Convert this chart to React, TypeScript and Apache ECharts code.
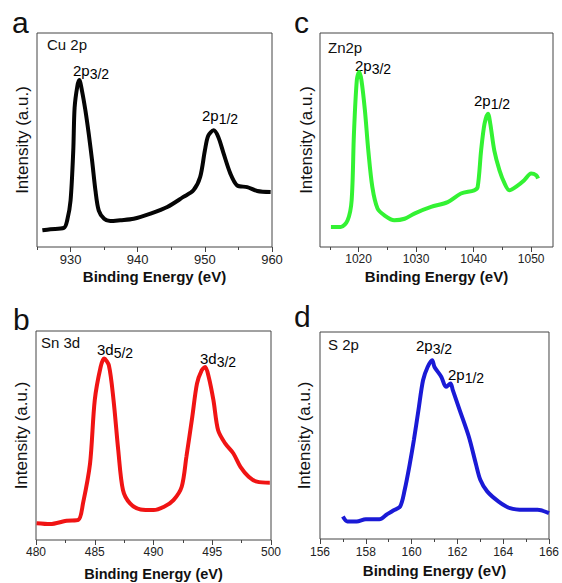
import React, { useEffect, useRef } from "react";
import * as echarts from "echarts";

// ---- Data (binding energy in eV, intensity in arbitrary units 0-100) ----
const cuX = [925.8, 927.0, 929.0, 929.5, 930.0, 930.4, 930.6, 931.0, 931.3, 931.7, 932.2, 932.7, 933.2, 933.7, 934.2, 935.0, 935.9, 937.4, 939.4, 941.9, 944.4, 946.8, 948.3, 949.3, 950.0, 950.5, 951.3, 952.0, 952.8, 953.8, 954.8, 956.3, 957.8, 959.8];
const cuY = [7.8, 8.3, 8.9, 12.5, 21.8, 45, 65, 75, 78, 73, 64, 53, 40.5, 26.5, 17, 13.2, 12.1, 12.5, 13.2, 15.6, 18.7, 23.4, 26.5, 32.7, 45, 52, 54.5, 51.4, 43.6, 34.3, 28.8, 28, 26.2, 25.7];

const snX = [480.05, 481.2, 482.6, 483.6, 484.0, 484.6, 485.0, 485.5, 485.8, 486.2, 486.6, 487.0, 487.4, 488.0, 488.9, 490.0, 490.9, 491.7, 492.4, 492.8, 493.3, 493.7, 494.1, 494.4, 494.7, 495.1, 495.5, 496.1, 496.8, 497.4, 498.1, 498.8, 499.9];
const snY = [8, 7.6, 9.2, 9.6, 17.5, 36.6, 66.9, 82.8, 86.8, 83.6, 66.9, 43, 23.9, 17.5, 14.6, 14.3, 15.9, 19.1, 25.5, 39.8, 58.9, 74.8, 81.2, 82.8, 78, 66.9, 52.5, 46.2, 41.4, 35, 30.3, 27.9, 27.4];

const znX = [1015.2, 1016.9, 1018.1, 1018.8, 1019.2, 1019.7, 1020.1, 1020.5, 1021.1, 1021.7, 1022.4, 1023.3, 1024.5, 1026.2, 1028.0, 1029.7, 1032.6, 1035.5, 1037.8, 1040.1, 1040.7, 1041.3, 1041.9, 1042.5, 1042.9, 1043.6, 1044.5, 1045.4, 1046.2, 1047.7, 1048.8, 1050.0, 1050.9, 1051.2];
const znY = [9.3, 9.3, 12.5, 21.8, 53, 78, 81.8, 78, 64, 45, 28, 18, 14.8, 12.5, 13.2, 15.6, 18.7, 21, 25, 26.5, 28, 45, 57.6, 62.3, 57.6, 45, 35.8, 29.6, 26.5, 28.8, 31.2, 34.3, 33.5, 32];

const sX = [157.0, 157.2, 157.6, 158.0, 158.6, 158.9, 159.2, 159.5, 159.7, 159.9, 160.1, 160.3, 160.5, 160.7, 160.9, 161.0, 161.3, 161.5, 161.7, 161.8, 162.1, 162.5, 162.8, 163.0, 163.3, 163.8, 164.3, 164.9, 165.5, 166.0];
const sY = [10.9, 8.5, 8.5, 9.6, 9.6, 11.7, 13.8, 15.7, 23.8, 35, 47.8, 62.3, 76.7, 83.1, 86.4, 83.1, 78.3, 73.5, 75.1, 71.9, 62.3, 49.4, 36.6, 28.6, 23, 18.1, 14.9, 14.1, 14.1, 12.5];

// ---- Tick labels ----
const cuLabels = [930, 940, 950, 960];
const cuMinor = [925, 935, 945, 955];
const snLabels = [480, 485, 490, 495, 500];
const snMinor = [482.5, 487.5, 492.5, 497.5];
const znLabels = [1020, 1030, 1040, 1050];
const znMinor = [1015, 1025, 1035, 1045];
const sLabels = [156, 158, 160, 162, 164, 166];
const sMinor = [157, 159, 161, 163, 165];

const FONT = "Liberation Sans, Arial, Helvetica, sans-serif";
const AXIS = "#444";

type Panel = {
  x: number[]; y: number[]; color: string; min: number; max: number;
  labels: number[]; minor: number[];
  grid: { left: number; top: number; width: number; height: number };
  nameGap: number; nameSize: number; yGap: number; labelMargin: number; labelSize: number;
};

const panels: Panel[] = [
  { x: cuX, y: cuY, color: "#050505", min: 925, max: 960, labels: cuLabels, minor: cuMinor,
    grid: { left: 37, top: 33, width: 235, height: 214 }, nameGap: 22, nameSize: 15, yGap: 6, labelMargin: 6, labelSize: 13 },
  { x: snX, y: snY, color: "#f01414", min: 480, max: 500, labels: snLabels, minor: snMinor,
    grid: { left: 36, top: 331, width: 235, height: 209 }, nameGap: 26, nameSize: 14.5, yGap: 6, labelMargin: 6, labelSize: 12 },
  { x: znX, y: znY, color: "#33f233", min: 1013.3, max: 1053.8, labels: znLabels, minor: znMinor,
    grid: { left: 320, top: 33, width: 233, height: 214 }, nameGap: 22, nameSize: 15, yGap: 5, labelMargin: 6, labelSize: 12 },
  { x: sX, y: sY, color: "#1a1ad6", min: 156, max: 166, labels: sLabels, minor: sMinor,
    grid: { left: 320, top: 332, width: 233, height: 207 }, nameGap: 24, nameSize: 15, yGap: 7, labelMargin: 7, labelSize: 12 },
];

const rich = {
  m: { fontSize: 15, fontFamily: FONT, color: "#111", lineHeight: 16, verticalAlign: "top" },
  s: { fontSize: 14, fontFamily: FONT, color: "#111", lineHeight: 16, verticalAlign: "top", padding: [4, 0, 0, 0] },
};

function peakLabel(main: string, sub: string, x: number, y: number) {
  return {
    type: "text", x, y, silent: true,
    style: { text: `{m|${main}}{s|${sub}}`, rich, verticalAlign: "top", align: "left" },
  };
}
function plain(text: string, x: number, y: number, size: number) {
  return {
    type: "text", x, y, silent: true,
    style: { text, fontSize: size, fontFamily: FONT, fill: "#111", verticalAlign: "top", align: "left", lineHeight: size },
  };
}

export default function App() {
  const ref = useRef<HTMLDivElement>(null);
  useEffect(() => {
    if (!ref.current) return;
    const chart = echarts.init(ref.current, undefined, { renderer: "svg" });
    const grids: any[] = [];
    const xAxes: any[] = [];
    const yAxes: any[] = [];
    const series: any[] = [];
    panels.forEach((p, i) => {
      grids.push({ ...p.grid, show: true, borderColor: AXIS, borderWidth: 1, backgroundColor: "transparent", containLabel: false });
      xAxes.push({
        type: "value", gridIndex: i, min: p.min, max: p.max,
        name: "Binding Energy (eV)", nameLocation: "middle", nameGap: p.nameGap,
        nameTextStyle: { fontSize: p.nameSize, fontWeight: "bold", fontFamily: FONT, color: "#111" },
        axisLine: { show: false }, splitLine: { show: false },
        axisTick: { show: true, customValues: p.labels, length: 5, lineStyle: { color: AXIS } },
        axisLabel: { customValues: p.labels, margin: p.labelMargin, fontSize: p.labelSize, fontFamily: FONT, color: "#222", formatter: (v: number) => String(v) },
      });
      xAxes.push({
        type: "value", gridIndex: i, min: p.min, max: p.max, position: "bottom",
        axisLine: { show: false }, splitLine: { show: false },
        axisTick: { show: true, customValues: p.minor, length: 3, lineStyle: { color: AXIS } },
        axisLabel: { show: false },
      });
      yAxes.push({
        type: "value", gridIndex: i, min: 0, max: 100,
        name: "Intensity (a.u.)", nameLocation: "middle", nameGap: p.yGap,
        nameTextStyle: { fontSize: 17, fontFamily: FONT, color: "#111" },
        axisLine: { show: false }, axisTick: { show: false }, axisLabel: { show: false }, splitLine: { show: false },
      });
      series.push({
        type: "line", xAxisIndex: i * 2, yAxisIndex: i,
        data: p.x.map((v, k) => [v, p.y[k]]),
        showSymbol: false, smooth: 0.3,
        lineStyle: { color: p.color, width: 4 },
      });
    });

    const graphic: any[] = [
      plain("a", 12, 7, 30), plain("b", 13, 304, 30), plain("c", 294, 7, 30), plain("d", 294, 301, 30),
      plain("Cu 2p", 47, 37, 15), plain("Sn 3d", 41, 335, 15), plain("Zn2p", 328, 40, 15), plain("S 2p", 328, 337, 15),
      peakLabel("2p", "3/2", 73, 63), peakLabel("2p", "1/2", 202, 108),
      peakLabel("2p", "3/2", 355, 58), peakLabel("2p", "1/2", 474, 93),
      peakLabel("3d", "5/2", 97, 342), peakLabel("3d", "3/2", 200, 351),
      peakLabel("2p", "3/2", 416, 338), peakLabel("2p", "1/2", 448, 367),
    ];

    chart.setOption({
      animation: false,
      backgroundColor: "#ffffff",
      grid: grids, xAxis: xAxes, yAxis: yAxes, series, graphic,
    });
    return () => chart.dispose();
  }, []);
  return <div ref={ref} style={{ position: "fixed", left: 0, top: 0, width: 562, height: 583 }} />;
}
